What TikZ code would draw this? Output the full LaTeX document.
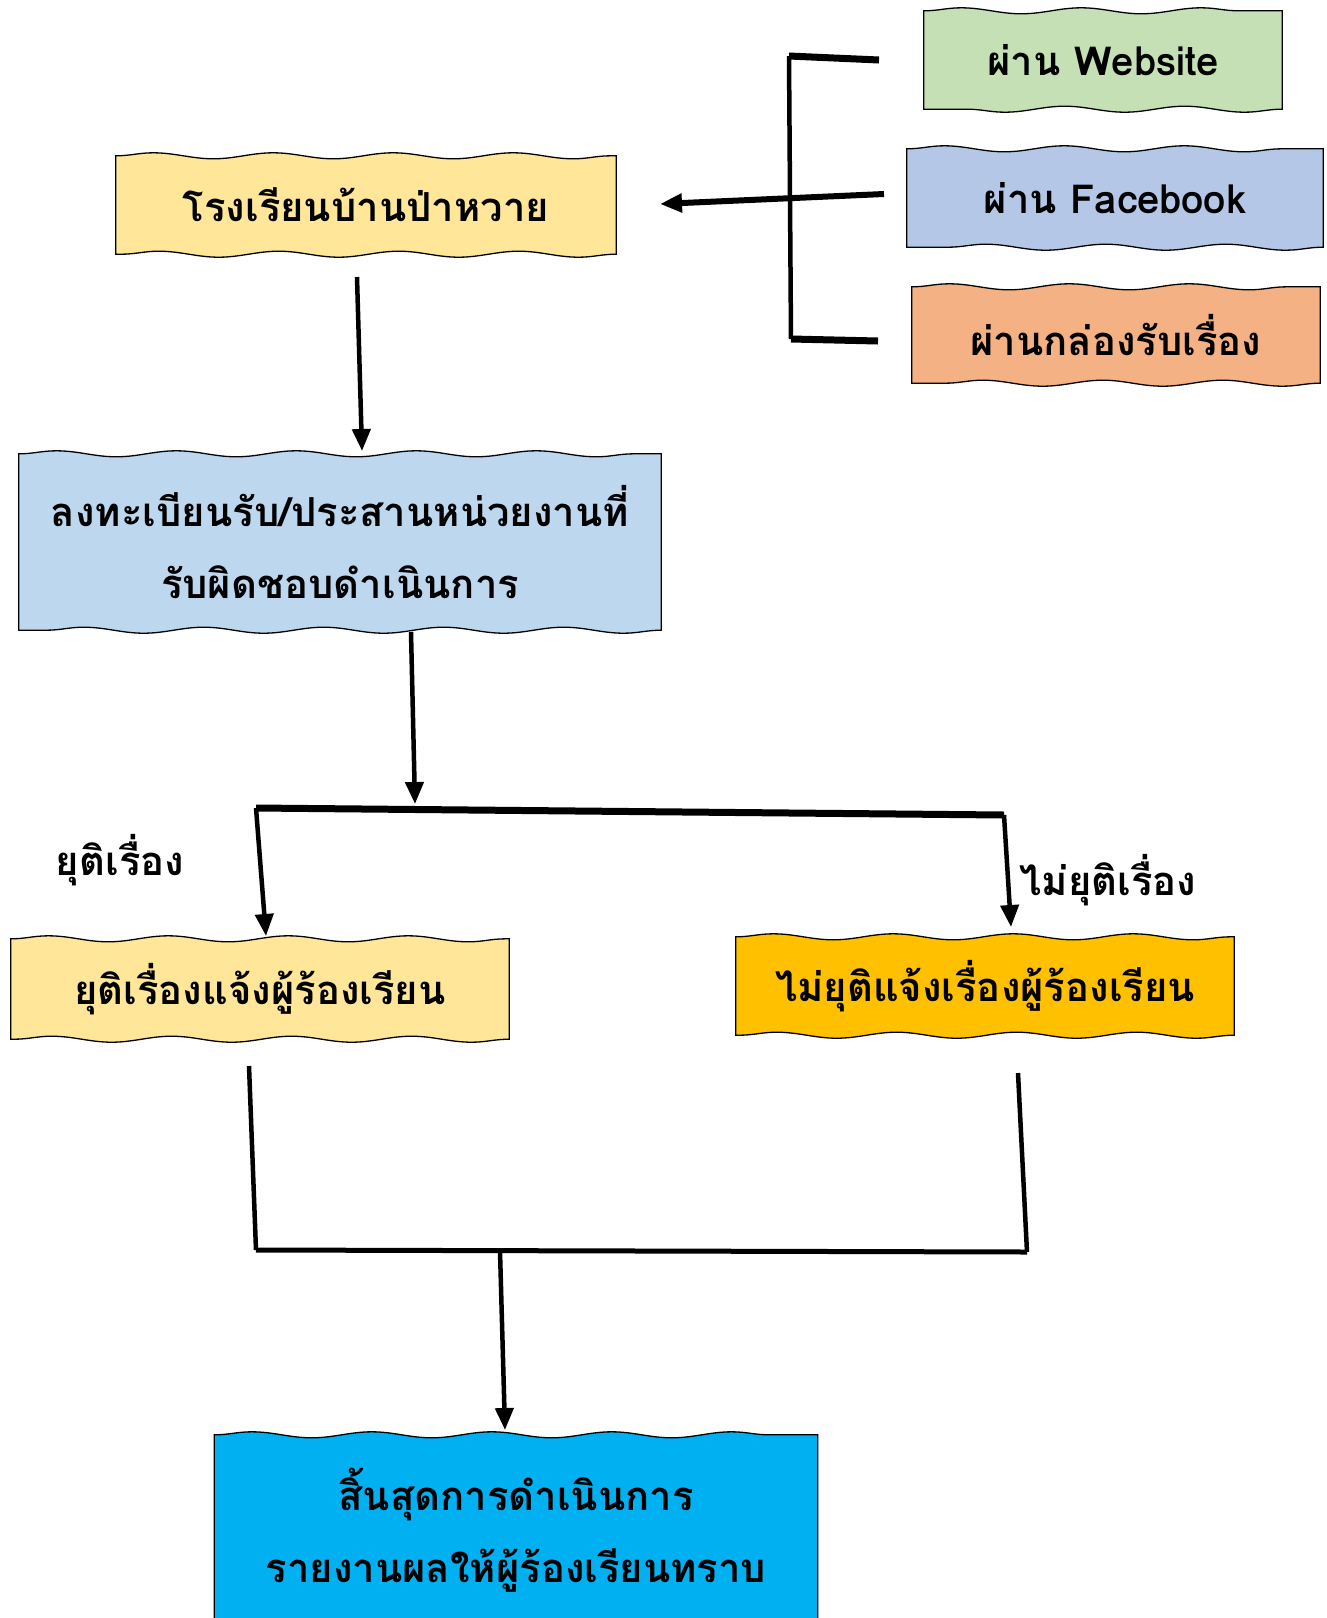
\documentclass[tikz,border=0pt]{standalone}
\usepackage{fontspec}
\newfontfamily\thaifont[Script=Thai]{Loma}
\usetikzlibrary{arrows.meta,decorations.pathmorphing,backgrounds}
\definecolor{webgreen}{HTML}{C5E0B4}
\definecolor{fbblue}{HTML}{B4C7E7}
\definecolor{mailorange}{HTML}{F4B183}
\definecolor{paleyellow}{HTML}{FFE699}
\definecolor{regblue}{HTML}{BDD7EE}
\definecolor{gold}{HTML}{FFC000}
\definecolor{endblue}{HTML}{00B0F0}
\tikzset{
  wavy/.style={decoration={snake,amplitude=3pt,segment length=120pt}},
  card/.style={align=center,inner sep=0pt,font=\thaifont\bfseries\fontsize{40}{72}\selectfont},
  flow/.style={line width=4.5pt,-{Triangle[length=22pt,width=18pt]}},
  bar/.style={line width=4.5pt}
}
\begin{document}
\begin{tikzpicture}[x=1pt,y=-1pt]
      \useasboundingbox (0,0) rectangle (1327,1618);

      \node [card, minimum width=358, minimum height=98] (web) at (1103,60) {ผ่าน Website};
      \node [card, minimum width=416, minimum height=98] (fb) at (1115,198) {ผ่าน Facebook};
      \node [card, minimum width=408, minimum height=96] (mail) at (1116,335) {ผ่านกล่องรับเรื่อง};
      \node [card, minimum width=500, minimum height=98] (school) at (366,205) {โรงเรียนบ้านป่าหวาย};
      \node [card, minimum width=642, minimum height=176] (reg) at (340,542) {ลงทะเบียนรับ/ประสานหน่วยงานที่\\รับผิดชอบดำเนินการ};
      \node [card, minimum width=498, minimum height=100] (done) at (260,989) {ยุติเรื่องแจ้งผู้ร้องเรียน};
      \node [card, minimum width=498, minimum height=98] (notdone) at (985,986) {ไม่ยุติแจ้งเรื่องผู้ร้องเรียน};
      \node [card, minimum width=603, minimum height=190] (final) at (516,1530) {สิ้นสุดการดำเนินการ\\รายงานผลให้ผู้ร้องเรียนทราบ};

      \node [card] (yes) at (120,860) {ยุติเรื่อง};
      \node [card] (no) at (1108,880) {ไม่ยุติเรื่อง};

      \begin{scope}[on background layer]
        \foreach \n/\c in {web/webgreen, fb/fbblue, mail/mailorange, school/paleyellow, reg/regblue, done/paleyellow, notdone/gold, final/endblue}
          \filldraw [fill=\c, draw=black, line width=1.3pt] (\n.north west) decorate [wavy] {-- (\n.north east)} -- (\n.south east) decorate [wavy] {-- (\n.south west)} -- cycle;
      \end{scope}

      \coordinate (brT) at (789,56);
      \coordinate (brB) at (791,339);
      \coordinate (webIn) at (879,60);
      \coordinate (mailIn) at (878,341);
      \coordinate (fbOut) at (884,194);
      \coordinate (schoolIn) at (660,204);
      \coordinate (schoolOut) at (357,277);
      \coordinate (regIn) at (362,451);
      \coordinate (regOut) at (411,632);
      \coordinate (split) at (415,804);
      \coordinate (splitL) at (256,808);
      \coordinate (splitR) at (1004,815);
      \coordinate (doneIn) at (266,936);
      \coordinate (notdoneIn) at (1011,927);
      \coordinate (doneOut) at (249,1066);
      \coordinate (notdoneOut) at (1018,1073);
      \coordinate (joinL) at (256,1250);
      \coordinate (joinR) at (1027,1252);
      \coordinate (joinM) at (500,1251);
      \coordinate (finalIn) at (505,1430);

      \draw [bar] (brT) -- (brB);
      \draw [line width=7pt] (brT) -- (webIn);
      \draw [line width=7pt] (brB) -- (mailIn);
      \draw [flow, line width=6pt] (fbOut) -- (schoolIn);

      \draw [flow] (schoolOut) -- (regIn);
      \draw [flow] (regOut) -- (split);
      \draw [line width=7pt] (splitL) -- (splitR);
      \draw [flow] (splitL) -- (doneIn);
      \draw [flow] (splitR) -- (notdoneIn);

      \draw [bar] (doneOut) -- (joinL);
      \draw [bar] (notdoneOut) -- (joinR);
      \draw [line width=5pt] (joinL) -- (joinR);
      \draw [flow] (joinM) -- (finalIn);
\end{tikzpicture}
\end{document}
